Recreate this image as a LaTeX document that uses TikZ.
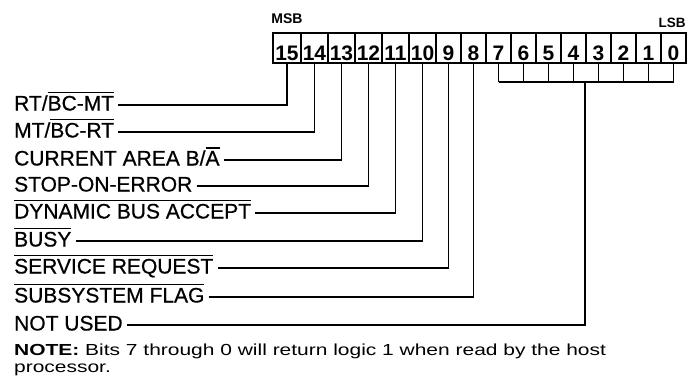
\documentclass[tikz,border=0pt]{standalone}
\usepackage{fontspec}
\setmainfont{Liberation Sans}
\newfontfamily\labfont[FakeBold=0.6]{Liberation Sans}
\newfontfamily\notefont[FakeStretch=1.31]{Liberation Sans}
\newcommand\ovl[1]{\setbox0\hbox{#1}\rlap{\rule[\dimexpr\ht0+2.5pt\relax]{\wd0}{1.3pt}}\box0}
\begin{document}
\begin{tikzpicture}[x=1pt,y=-1pt,
  cell/.style={draw, line width=1.4pt, minimum width=#1, minimum height=30pt,
    inner xsep=0pt, inner ysep=0pt, text height=26pt, text depth=2pt,
    font=\fontsize{21}{21}\selectfont\bfseries},
  lab/.style={anchor=west, inner xsep=4pt, inner ysep=0pt, text height=15pt,
    text depth=4pt, font=\labfont\fontsize{21}{22}\selectfont},
  wire/.style={line width=1.4pt},
  endlab/.style={inner sep=0pt, font=\fontsize{14}{14}\selectfont\bfseries}]
\useasboundingbox (0,0) rectangle (694,380);
% register cells
\node[cell=28pt] (c15) at (287,48) {15};
\node[cell=27pt] (c14) at (314.5,48) {14};
\node[cell=27pt] (c13) at (341.5,48) {13};
\node[cell=27pt] (c12) at (368.5,48) {12};
\node[cell=27pt] (c11) at (395.5,48) {11};
\node[cell=27pt] (c10) at (422.5,48) {10};
\node[cell=25pt] (c9) at (448.5,48) {9};
\node[cell=25pt] (c8) at (473.5,48) {8};
\node[cell=25pt] (c7) at (498.5,48) {7};
\node[cell=25pt] (c6) at (523.5,48) {6};
\node[cell=25pt] (c5) at (548.5,48) {5};
\node[cell=25pt] (c4) at (573.5,48) {4};
\node[cell=25pt] (c3) at (598.5,48) {3};
\node[cell=25pt] (c2) at (623.5,48) {2};
\node[cell=25pt] (c1) at (648.5,48) {1};
\node[cell=25pt] (c0) at (673.5,48) {0};
\node[endlab] (msb) at (287,19) {MSB};
\node[endlab, font=\fontsize{13.5}{14}\selectfont\bfseries] (lsb) at (672,23) {LSB};
% labels
\node[lab] (l15) at (10,105) {RT/\ovl{BC-MT}};
\node[lab] (l14) at (10,132) {MT/\ovl{BC-RT}};
\node[lab] (l13) at (10,160) {CURRENT AREA B/\ovl{A}};
\node[lab] (l12) at (10,186) {STOP-ON-ERROR};
\node[lab] (l11) at (10,213) {\ovl{DYNAMIC BUS ACCEPT}};
\node[lab] (l10) at (10,241) {\ovl{BUSY}};
\node[lab] (l9) at (10,268) {\ovl{SERVICE REQUEST}};
\node[lab] (l8) at (10,297) {\ovl{SUBSYSTEM FLAG}};
\node[lab] (lnu) at (10,325) {NOT USED};
% connectors
\foreach \b in {15,14,13,12,11,10,9,8}
  \draw[wire] (l\b.east) -| (c\b.south);
\coordinate (bar) at (585,82);
\foreach \b in {7,6,5,4,3,2,1,0}
  \draw[wire] (c\b.south) -- (c\b.south |- bar);
\draw[wire] (c7.south |- bar) -- (c0.south |- bar);
\draw[wire] (lnu.east) -| (bar);
% note
\node[anchor=base west, align=left, inner sep=0pt,
  font=\notefont\fontsize{16}{16.5}\selectfont] (note) at (14,372)
  {\textbf{NOTE:} Bits 7 through 0 will return logic 1 when read by the host\\processor.};
\end{tikzpicture}
\end{document}
